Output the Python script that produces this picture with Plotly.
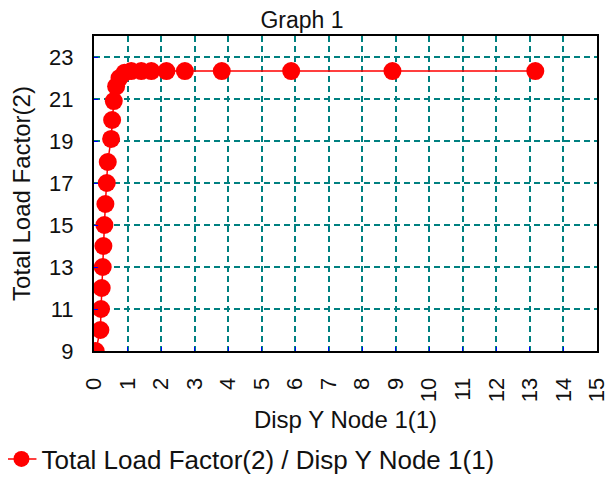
import plotly.graph_objects as go

disp_y = [0.05, 0.19, 0.21, 0.23, 0.26, 0.28, 0.31, 0.34, 0.38, 0.41, 0.51, 0.54, 0.59,
          0.66, 0.76, 0.91, 1.11, 1.41, 1.71, 2.16, 2.71, 3.81, 5.88, 8.9, 13.16]
load_factor = [9.0, 10.0, 11.0, 12.0, 13.0, 14.0, 15.0, 16.0, 17.0, 18.0, 19.1, 20.0, 20.9,
               21.6, 22.0, 22.25, 22.33, 22.33, 22.33, 22.33, 22.33, 22.33, 22.33, 22.33, 22.33]

x_ticks = list(range(0, 16))
y_ticks = list(range(9, 24, 2))

font = "Liberation Sans, Arial, sans-serif"

fig = go.Figure()
fig.add_trace(go.Scatter(
    x=disp_y, y=load_factor,
    mode="lines+markers",
    name="Total Load Factor(2) / Disp Y Node 1(1)",
    line=dict(color="#ff0000", width=1.5),
    marker=dict(color="#ff0000", size=18, line=dict(width=0)),
    cliponaxis=True
))

# the page adds ~8px body margin, so everything is nudged up/left by that much
fig.update_layout(
    width=615, height=477,
    margin=dict(l=86, r=26, t=28, b=134, autoexpand=False),
    paper_bgcolor="white", plot_bgcolor="white",
    title=dict(text="Graph 1", x=0.478, xanchor="center", y=0.974, yanchor="middle",
               font=dict(family=font, size=23, color="#111")),
    font=dict(family=font, size=24, color="#111"),
    showlegend=True,
    legend=dict(x=-0.184, xanchor="left", y=-0.343, yanchor="middle",
                orientation="h", font=dict(size=26), itemwidth=30),
)

fig.update_xaxes(
    range=[0, 15], tickvals=x_ticks, tickangle=-90, automargin=False,
    showgrid=True, gridcolor="#008080", griddash="6px,4px", gridwidth=1.5,
    showline=True, linecolor="black", linewidth=2, mirror=True,
    ticks="inside", ticklen=4, tickcolor="#0000ff",
    zeroline=False, ticklabelstandoff=16,
    title=dict(text="Disp Y Node 1(1)", font=dict(size=24), standoff=10),
    tickfont=dict(size=22)
)
fig.update_yaxes(
    range=[9, 24], tickvals=y_ticks, automargin=False,
    showgrid=True, gridcolor="#008080", griddash="6px,4px", gridwidth=1.5,
    showline=True, linecolor="black", linewidth=2, mirror=True,
    ticks="inside", ticklen=4, tickcolor="#0000ff",
    zeroline=False, ticklabelstandoff=14,
    title=dict(text="Total Load Factor(2)", font=dict(size=24), standoff=12),
    tickfont=dict(size=22)
)

fig.write_html("out.html")
